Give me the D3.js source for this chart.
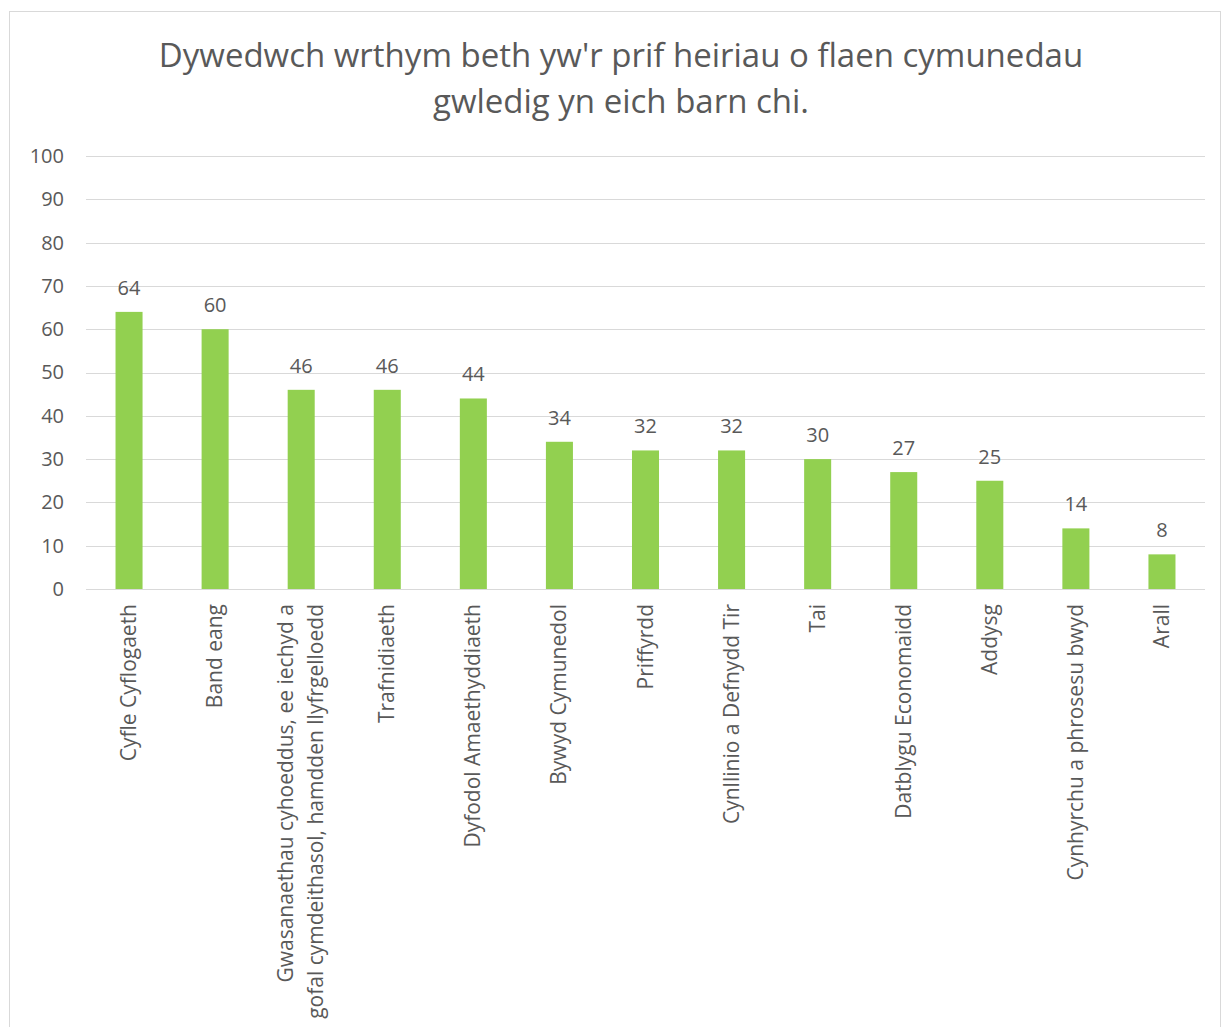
<!DOCTYPE html>
<html>
<head>
<meta charset="utf-8">
<script src="https://cdn.jsdelivr.net/npm/d3@7"></script>
<style>
  body { margin: 0; background: #fff; }
  text { font-family: "Open Sans", "Noto Sans", sans-serif; fill: #595959; }
</style>
</head>
<body>
<div id="chartContainer"></div>
<script>
// chart data
const categories = [
  "Cyfle Cyflogaeth",
  "Band eang",
  "Gwasanaethau cyhoeddus, ee iechyd a|gofal cymdeithasol, hamdden llyfrgelloedd",
  "Trafnidiaeth",
  "Dyfodol Amaethyddiaeth",
  "Bywyd Cymunedol",
  "Priffyrdd",
  "Cynllinio a Defnydd Tir",
  "Tai",
  "Datblygu Economaidd",
  "Addysg",
  "Cynhyrchu a phrosesu bwyd",
  "Arall"
];
const values = [64, 60, 46, 46, 44, 34, 32, 32, 30, 27, 25, 14, 8];
const yTicks = [0, 10, 20, 30, 40, 50, 60, 70, 80, 90, 100];
const titleLines = [
  "Dywedwch wrthym beth yw'r prif heiriau o flaen cymunedau",
  "gwledig yn eich barn chi."
];

const svgWidth = 1223;
const svgHeight = 1027;
const margin = { top: 156, right: 18, bottom: 438, left: 86 };

const svg = d3.select("#chartContainer")
  .append("svg")
  .attr("width", svgWidth)
  .attr("height", svgHeight);

// outer chart border
svg.append("rect")
  .attr("x", 9.5)
  .attr("y", 11.5)
  .attr("width", 1211)
  .attr("height", 1030)
  .attr("fill", "none")
  .attr("stroke", "#d9d9d9")
  .attr("stroke-width", 1);

const xScale = d3.scaleBand()
  .domain(categories)
  .range([margin.left, svgWidth - margin.right])
  .paddingInner(0.686)
  .paddingOuter(0.343);

const yScale = d3.scaleLinear()
  .domain([0, 100])
  .range([svgHeight - margin.bottom, margin.top]);

// gridlines
svg.append("g")
  .selectAll("line")
  .data(yTicks)
  .enter()
  .append("line")
  .attr("x1", margin.left)
  .attr("x2", svgWidth - margin.right)
  .attr("y1", d => Math.round(yScale(d)) + 0.5)
  .attr("y2", d => Math.round(yScale(d)) + 0.5)
  .attr("stroke", "#d9d9d9")
  .attr("stroke-width", 1);

// y axis labels
const yAxis = svg.append("g")
  .attr("transform", `translate(${margin.left - 22}, 0)`)
  .call(d3.axisLeft(yScale).tickValues(yTicks).tickSize(0).tickPadding(0));
yAxis.select(".domain").remove();
yAxis.selectAll("text")
  .style("font-size", "20px")
  .style("font-family", null)
  .attr("fill", null);

// bars
svg.append("g")
  .selectAll("rect")
  .data(values)
  .enter()
  .append("rect")
  .attr("x", (d, i) => xScale(categories[i]))
  .attr("y", d => yScale(d))
  .attr("width", xScale.bandwidth())
  .attr("height", d => yScale(0) - yScale(d))
  .attr("fill", "#92d050");

// data labels
svg.append("g")
  .selectAll("text")
  .data(values)
  .enter()
  .append("text")
  .attr("x", (d, i) => xScale(categories[i]) + xScale.bandwidth() / 2)
  .attr("y", d => yScale(d) - 17)
  .attr("text-anchor", "middle")
  .style("font-size", "20px")
  .text(d => d);

// x axis (ticks hidden, labels drawn rotated below)
const xAxis = svg.append("g")
  .attr("transform", `translate(0, ${yScale(0)})`)
  .call(d3.axisBottom(xScale).tickSize(0).tickFormat(""));
xAxis.select(".domain").remove();

const catLabels = svg.append("g")
  .selectAll("text")
  .data(categories)
  .enter()
  .append("text")
  .attr("text-anchor", "end")
  .style("font-size", "21px")
  .attr("transform", d => {
    const cx = xScale(d) + xScale.bandwidth() / 2;
    return `translate(${cx}, ${yScale(0) + 15}) rotate(-90)`;
  });

catLabels.each(function(d) {
  const lines = d.split("|");
  const t = d3.select(this);
  const lineH = 30;
  const offset = -(lines.length - 1) * lineH / 2 + 7;
  lines.forEach((ln, j) => {
    t.append("tspan")
      .attr("x", 0)
      .attr("y", offset + j * lineH)
      .text(ln);
  });
});

// title
svg.append("g")
  .selectAll("text")
  .data(titleLines)
  .enter()
  .append("text")
  .attr("x", 621)
  .attr("y", (d, i) => 67 + i * 46)
  .attr("text-anchor", "middle")
  .style("font-size", "33px")
  .text(d => d);
</script>
</body>
</html>
